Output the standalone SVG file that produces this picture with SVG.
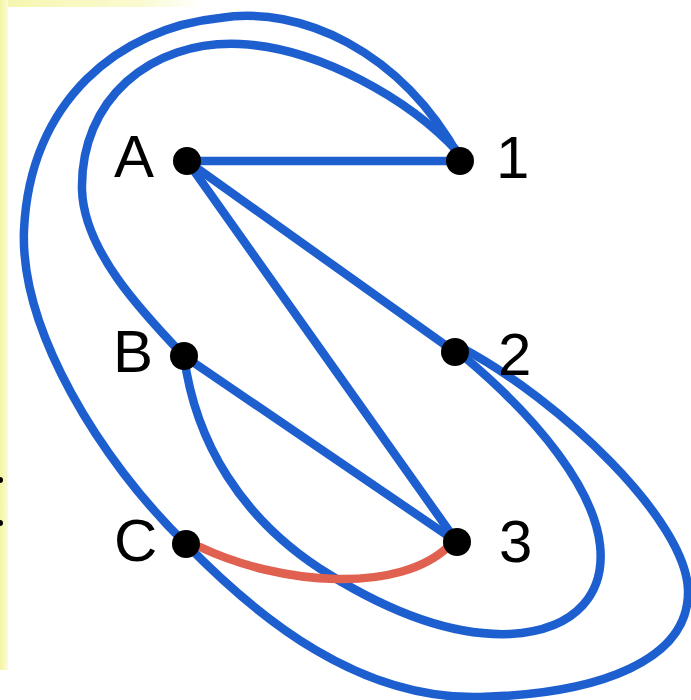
<svg xmlns="http://www.w3.org/2000/svg" width="691" height="700" viewBox="0 0 691 700">
  <defs>
    <linearGradient id="gl" x1="0" y1="0" x2="1" y2="0">
      <stop offset="0" stop-color="#f4f5a0"/>
      <stop offset="1" stop-color="#fbfbd8"/>
    </linearGradient>
    <linearGradient id="gt" x1="0" y1="0" x2="1" y2="0">
      <stop offset="0" stop-color="#f6f6b0"/>
      <stop offset="0.7" stop-color="#fafad0"/>
      <stop offset="1" stop-color="#ffffff"/>
    </linearGradient>
    <style>
      .e { fill: none; stroke: #1e5fd0; stroke-width: 8.5; stroke-linecap: round; }
      .r { fill: none; stroke: #e0614f; stroke-width: 8.5; stroke-linecap: round; }
      .d { fill: #000000; }
      .t { font-family: "Liberation Sans", Arial, sans-serif; font-size: 60px; fill: #000000; }
    </style>
  </defs>
  <rect x="0" y="0" width="691" height="700" fill="#ffffff"/>
  <rect x="0" y="0" width="200" height="7" fill="url(#gt)"/>
  <rect x="0" y="0" width="8" height="670" fill="url(#gl)"/>
  <circle cx="0" cy="480" r="3" fill="#000"/>
  <circle cx="0" cy="523" r="3" fill="#000"/>

  <g id="connectors">
    <line class="e" x1="187" y1="161" x2="460" y2="161"/>
    <line class="e" x1="187" y1="161" x2="455" y2="352"/>
    <line class="e" x1="187" y1="161" x2="457" y2="542"/>
    <line class="e" x1="184" y1="356" x2="457" y2="542"/>
    <path class="e" d="M460,158 C400,50 300,5 220,18 C120,28 30,100 24,230 C20,330 100,460 186,544"/>
    <path class="e" d="M186,544 C260,620 360,700 480,697 C600,694 690,660 688,590 C686,520 560,400 462,348"/>
    <path class="e" d="M458,152 C410,100 320,48 240,44 C150,40 80,100 82,190 C84,250 140,310 184,356"/>
    <path class="e" d="M184,356 C195,440 240,520 330,575 C400,618 460,636 510,634 C580,630 605,590 600,545 C594,490 540,420 462,355"/>
    <path class="r" d="M200,547 C280,585 400,595 450,545"/>
  </g>

  <g id="node-A"><circle class="d" cx="187" cy="161" r="14"/><text class="t" x="114" y="177">A</text></g>
  <g id="node-B"><circle class="d" cx="184" cy="356" r="14"/><text class="t" x="113" y="372">B</text></g>
  <g id="node-C"><circle class="d" cx="186" cy="544" r="14"/><text class="t" x="114" y="561">C</text></g>
  <g id="node-1"><circle class="d" cx="460" cy="161" r="14"/><text class="t" x="496" y="178">1</text></g>
  <g id="node-2"><circle class="d" cx="455" cy="352" r="14"/><text class="t" x="498" y="375">2</text></g>
  <g id="node-3"><circle class="d" cx="457" cy="542" r="14"/><text class="t" x="499" y="562">3</text></g>
</svg>
